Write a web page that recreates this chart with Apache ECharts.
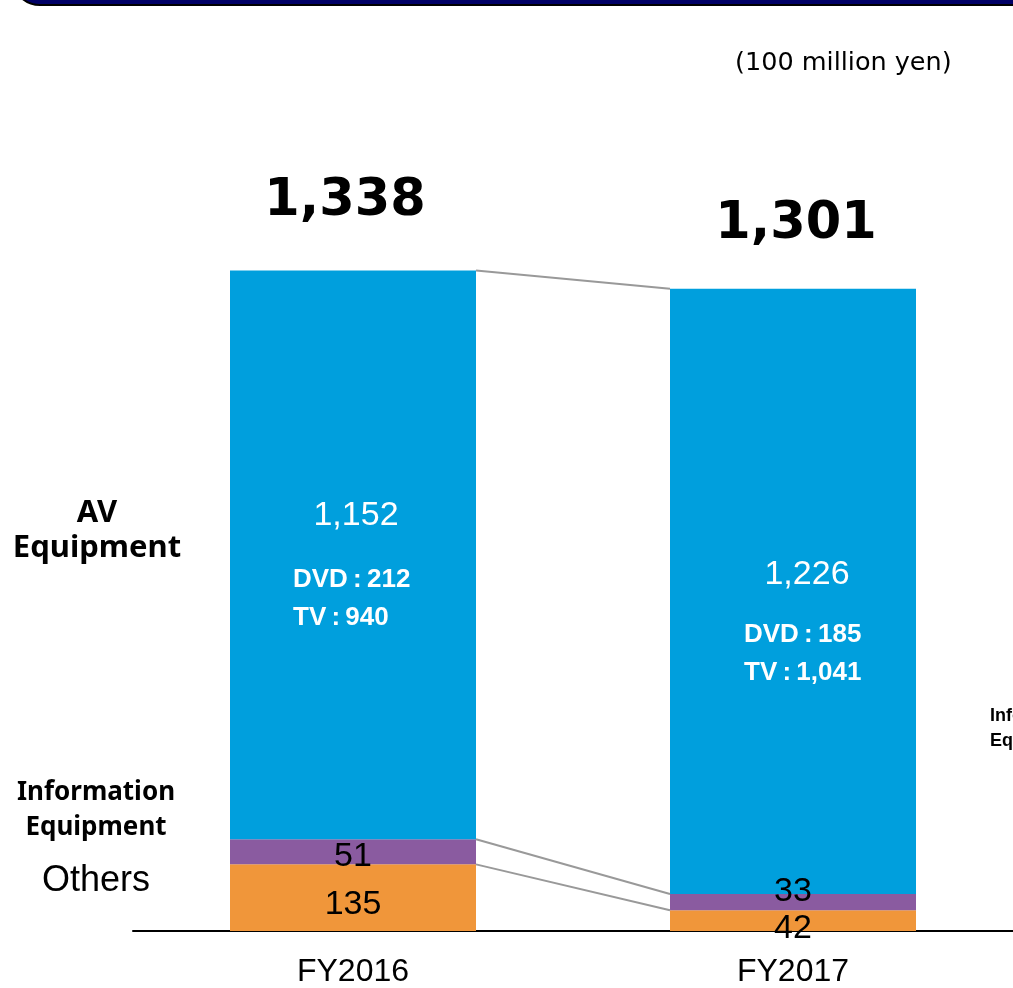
<!DOCTYPE html>
<html>
<head>
<meta charset="utf-8">
<script src="https://cdn.jsdelivr.net/npm/echarts@6/dist/echarts.min.js"></script>
<style>
  html, body { margin: 0; padding: 0; background: #ffffff; }
  #chart { width: 1013px; height: 988px; }
</style>
</head>
<body>
<div id="chart"></div>
<script>
// Net sales by segment (100 million yen)
const categories = ['FY2016', 'FY2017'];
const others = [135, 42];
const infoEquipment = [51, 33];
const avEquipment = [1152, 1226];
const totals = [1338, 1301];
const dvd = [212, 185];
const tv = [940, 1041];

const fmt = v => v.toLocaleString('en-US');

const BAR_W = 246;
const chart = echarts.init(document.getElementById('chart'), null, { renderer: 'canvas' });

const segLabel = {
  show: true,
  position: 'inside',
  color: '#000000',
  fontFamily: 'Liberation Sans, Arial, sans-serif',
  fontSize: 34,
  formatter: p => fmt(p.value)
};

chart.setOption({
  animation: false,
  grid: { left: 133, right: 0, top: 240, height: 691, containLabel: false },
  xAxis: {
    type: 'category',
    data: categories,
    axisLine: { lineStyle: { color: '#000000', width: 2 } },
    axisTick: { show: false },
    axisLabel: {
      color: '#000000',
      fontFamily: 'Liberation Sans, Arial, sans-serif',
      fontSize: 32,
      margin: 25
    }
  },
  yAxis: {
    type: 'value', min: 0, max: 1400,
    show: false, splitLine: { show: false }
  },
  series: [
    {
      name: 'Others', type: 'bar', stack: 'sales', barWidth: BAR_W,
      itemStyle: { color: '#F0963A' },
      data: others.map((v, i) => ({
        value: v,
        label: { offset: [0, i === 0 ? 7 : 8] }
      })),
      label: segLabel
    },
    {
      name: 'Information Equipment', type: 'bar', stack: 'sales', barWidth: BAR_W,
      itemStyle: { color: '#8A5BA0' },
      data: infoEquipment.map((v, i) => ({
        value: v,
        label: { offset: [0, i === 0 ? 5 : -11] }
      })),
      label: segLabel
    },
    {
      name: 'AV Equipment', type: 'bar', stack: 'sales', barWidth: BAR_W,
      itemStyle: { color: '#009FDD' },
      data: avEquipment,
      label: { show: false }
    }
  ]
});

// Annotations placed through the chart's own coordinate conversion
const px = (i, v) => chart.convertToPixel({ gridIndex: 0 }, [i, v]);
const gfx = [];
const Z = 100;

// header band
gfx.push({
  type: 'rect', shape: { x: 12, y: -30, width: 1040, height: 35, r: [0, 0, 0, 28] },
  style: { fill: '#000066', stroke: '#000000', lineWidth: 2 },
  z: Z
});

gfx.push({
  type: 'text', z: Z, style: {
    text: '(100 million yen)', x: 735, y: 63, verticalAlign: 'middle',
    font: '25.5px "DejaVu Sans", Verdana, sans-serif', fill: '#000000'
  }
});

// connecting lines between the two bars
const cum = categories.map((_, i) => [others[i], others[i] + infoEquipment[i], totals[i]]);
for (let k = 0; k < 3; k++) {
  const a = px(0, cum[0][k]);
  const b = px(1, cum[1][k]);
  gfx.push({
    type: 'line', z: Z,
    shape: { x1: a[0] + BAR_W / 2, y1: a[1], x2: b[0] - BAR_W / 2, y2: b[1] },
    style: { stroke: '#999999', lineWidth: 2 }
  });
}

categories.forEach((c, i) => {
  const top = px(i, totals[i]);
  const avBase = px(i, others[i] + infoEquipment[i]);
  const cx = top[0];
  gfx.push({
    type: 'text', z: Z, style: {
      text: fmt(totals[i]), x: cx + (i === 0 ? -8 : 3), y: top[1] - (i === 0 ? 69 : 64),
      align: 'center', verticalAlign: 'middle',
      font: 'bold 51px "DejaVu Sans", Verdana, sans-serif', fill: '#000000'
    }
  });
  const vy = avBase[1] - (i === 0 ? 324 : 319);
  gfx.push({
    type: 'text', z: Z, style: {
      text: fmt(avEquipment[i]), x: cx + (i === 0 ? 3 : 14), y: vy, align: 'center', verticalAlign: 'middle',
      font: '34px "Liberation Sans", Arial, sans-serif', fill: '#ffffff'
    }
  });
  const lx = cx - (i === 0 ? 60 : 49);
  const d0 = i === 0 ? 65 : 60;
  gfx.push({
    type: 'text', z: Z, style: {
      text: 'DVD\u2009:\u2009' + fmt(dvd[i]), x: lx, y: vy + d0, verticalAlign: 'middle',
      font: 'bold 26px "Liberation Sans", Arial, sans-serif', fill: '#ffffff'
    }
  });
  gfx.push({
    type: 'text', z: Z, style: {
      text: 'TV\u2009:\u2009' + fmt(tv[i]), x: lx, y: vy + d0 + 38, verticalAlign: 'middle',
      font: 'bold 26px "Liberation Sans", Arial, sans-serif', fill: '#ffffff'
    }
  });
});

// segment names on the left and the clipped column on the right
gfx.push({
  type: 'text', z: Z, style: {
    text: 'AV\nEquipment', x: 97, y: 531, align: 'center', verticalAlign: 'middle', lineHeight: 35,
    font: 'bold 31px "Noto Sans", sans-serif', fill: '#000000'
  }
});
gfx.push({
  type: 'text', z: Z, style: {
    text: 'Information\nEquipment', x: 96, y: 810, align: 'center', verticalAlign: 'middle', lineHeight: 35,
    font: 'bold 26px "Noto Sans", sans-serif', fill: '#000000'
  }
});
gfx.push({
  type: 'text', z: Z, style: {
    text: 'Others', x: 96, y: 881, align: 'center', verticalAlign: 'middle',
    font: '36px "Liberation Sans", Arial, sans-serif', fill: '#000000'
  }
});
gfx.push({
  type: 'text', z: Z, style: {
    text: 'Information\nEquipment', x: 990, y: 729, verticalAlign: 'middle', lineHeight: 25,
    font: 'bold 18px "Liberation Sans", Arial, sans-serif', fill: '#000000'
  }
});

chart.setOption({ graphic: gfx });
</script>
</body>
</html>
